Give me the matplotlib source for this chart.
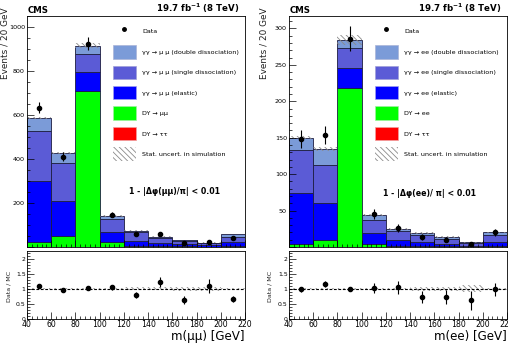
import numpy as np
import matplotlib
matplotlib.use("Agg")
import matplotlib.pyplot as plt
from matplotlib.patches import Patch
from matplotlib.lines import Line2D
from matplotlib.ticker import MultipleLocator, FuncFormatter

# ---------------- data ----------------
bin_edges = [40, 60, 80, 100, 120, 140, 160, 180, 200, 220]

# mu mu channel
mm_dytt   = [0, 0, 1, 0, 0, 0, 0, 0, 0]
mm_dy     = [22, 50, 708, 24, 5, 5, 3, 2, 4]
mm_el     = [278, 160, 86, 43, 23, 13, 9, 6, 18]
mm_sd     = [226, 170, 84, 59, 39, 21, 16, 9, 24]
mm_dd     = [60, 47, 36, 15, 7, 8, 4, 3, 13]
mm_data   = [633, 410, 924, 147, 59, 58, 20, 22, 39]
mm_relunc = [0.01, 0.012, 0.013, 0.02, 0.045, 0.05, 0.06, 0.07, 0.015]

# e e channel
ee_dytt   = [0, 0, 0.5, 0, 0, 0, 0, 0, 0]
ee_dy     = [4, 9, 217.5, 4.5, 2, 2, 1, 0.5, 1]
ee_el     = [70, 51, 27, 14.5, 7, 4.5, 3, 1.5, 6]
ee_sd     = [59, 53, 28, 18, 12.5, 9.5, 7, 3, 10]
ee_dd     = [17, 21, 11, 7, 3.3, 3.4, 2.8, 1.5, 3.3]
ee_data   = [148, 154, 286, 45, 26, 14, 10, 4, 20]
ee_relunc = [0.015, 0.02, 0.025, 0.03, 0.035, 0.06, 0.06, 0.11, 0.03]

labels_mm = ["Data",
             "γγ → μ μ (double dissociation)",
             "γγ → μ μ (single dissociation)",
             "γγ → μ μ (elastic)",
             "DY → μμ",
             "DY → ττ",
             "Stat. uncert. in simulation"]
labels_ee = ["Data",
             "γγ → ee (double dissociation)",
             "γγ → ee (single dissociation)",
             "γγ → ee (elastic)",
             "DY → ee",
             "DY → ττ",
             "Stat. uncert. in simulation"]

c_dd = "#7b9bd8"
c_sd = "#5b5bd6"
c_el = "#0000ff"
c_dy = "#00ff00"
c_tt = "#ff0000"
edge = "#1c1c40"
hatch_col = "#8a8a8a"

plt.rcParams["hatch.linewidth"] = 0.6
plt.rcParams["font.family"] = ["DejaVu Sans"]

fig = plt.figure(figsize=(5.10, 3.45), dpi=100)
W, H = 510.0, 345.0


def px_axes(x0, x1, ytop, ybot):
    return fig.add_axes([x0 / W, (H - ybot) / H, (x1 - x0) / W, (ybot - ytop) / H])


def style_ticks(ax):
    ax.tick_params(which="both", direction="in", top=False, right=False, width=0.5)
    ax.tick_params(which="major", length=5)
    ax.tick_params(which="minor", length=2.5)
    for s in ax.spines.values():
        s.set_linewidth(0.6)
    ax.set_axisbelow(False)


def panel(x0, comps, data, relunc, labels, ymax, ymajor, yminor, xlabel, sel_text, sel_x, sel_y,
          ylab_x, rlab_x):
    edges = np.array(bin_edges, dtype=float)
    lefts = edges[:-1]
    widths = np.diff(edges)
    centers = lefts + widths / 2
    data = np.array(data, dtype=float)
    relunc = np.array(relunc, dtype=float)

    ax = px_axes(x0, x0 + 218, 16, 247)
    bottom = np.zeros(len(lefts))
    for vals, col in comps:
        vals = np.array(vals, dtype=float)
        ax.bar(lefts, vals, width=widths, bottom=bottom, align="edge", color=col,
               edgecolor=edge, linewidth=0.6, zorder=1)
        bottom = bottom + vals
    total = bottom
    ax.bar(lefts, 2 * total * relunc, width=widths, bottom=total * (1 - relunc), align="edge",
           facecolor="none", edgecolor=hatch_col, hatch="\\\\\\\\\\\\", linewidth=0, zorder=2)
    derr = np.sqrt(data)
    ax.errorbar(centers, data, yerr=derr, fmt="o", color="black", ms=3.0, elinewidth=0.8,
                capsize=0, zorder=5)
    ax.set_xlim(40, 220)
    ax.set_ylim(0, ymax)
    ax.xaxis.set_major_locator(MultipleLocator(20))
    ax.xaxis.set_minor_locator(MultipleLocator(4))
    ax.yaxis.set_major_locator(MultipleLocator(ymajor))
    ax.yaxis.set_minor_locator(MultipleLocator(yminor))
    ax.yaxis.set_major_formatter(FuncFormatter(lambda v, p: "" if v == 0 else "%g" % v))
    ax.tick_params(labelbottom=False, labelsize=4.6, pad=1.5)
    style_ticks(ax)

    handles = [Line2D([], [], marker="o", color="black", ls="none", ms=2.5),
               Patch(facecolor=c_dd, edgecolor="#aab4d8", lw=0.5),
               Patch(facecolor=c_sd, edgecolor="#a0a0d8", lw=0.5),
               Patch(facecolor=c_el, edgecolor="#a0a0f0", lw=0.5),
               Patch(facecolor=c_dy, edgecolor="#a0f0a0", lw=0.5),
               Patch(facecolor=c_tt, edgecolor="#f0a0a0", lw=0.5),
               Patch(facecolor="white", edgecolor=hatch_col, hatch="\\\\\\\\\\\\", lw=0)]
    ax.legend(handles, labels, loc="upper left", bbox_to_anchor=(0.394, 0.962),
              borderaxespad=0, borderpad=0, frameon=False, fontsize=4.6,
              handlelength=3.6, handleheight=2.85, labelspacing=1.1, handletextpad=1.0)

    ax.text(sel_x, sel_y, sel_text, transform=ax.transAxes, fontsize=5.7, fontweight="bold",
            ha="left", va="center")
    ax.text(0.005, 1.005, "CMS", transform=ax.transAxes, fontsize=6.2, fontweight="bold",
            ha="left", va="bottom")
    ax.text(0.975, 1.005, "19.7 fb$^{\\mathbf{-1}}$ (8 TeV)", transform=ax.transAxes, fontsize=6.2,
            fontweight="bold", ha="right", va="bottom")
    fig.text(ylab_x / W, 1 - 7 / H, "Events / 20 GeV", rotation=90, fontsize=6.4,
             ha="center", va="top", color="#222222")

    # ratio panel
    rx = px_axes(x0, x0 + 218, 251, 319)
    rx.bar(lefts, 2 * relunc, width=widths, bottom=1 - relunc, align="edge",
           facecolor="none", edgecolor=hatch_col, hatch="\\\\\\\\\\\\", linewidth=0, zorder=1)
    rx.axhline(1.0, color="black", lw=0.8, ls=(0, (2.5, 1.5)), zorder=2)
    ratio = data / total
    rerr = derr / total
    rx.errorbar(centers, ratio, yerr=rerr, fmt="o", color="black", ms=3.0, elinewidth=0.8,
                capsize=0, zorder=5)
    rx.set_xlim(40, 220)
    rx.set_ylim(0, 2.25)
    rx.xaxis.set_major_locator(MultipleLocator(20))
    rx.xaxis.set_minor_locator(MultipleLocator(4))
    rx.yaxis.set_major_locator(MultipleLocator(0.5))
    rx.yaxis.set_minor_locator(MultipleLocator(0.1))
    rx.yaxis.set_major_formatter(FuncFormatter(lambda v, p: "%g" % v))
    rx.tick_params(axis="x", labelsize=5.6, pad=1.0)
    rx.tick_params(axis="y", labelsize=4.4, pad=1.0)
    style_ticks(rx)
    rx.set_xlabel(xlabel, fontsize=8.6, loc="right", labelpad=0.5)
    fig.text(rlab_x / W, 1 - 286 / H, "Data / MC", rotation=90, fontsize=4.6,
             ha="center", va="center", color="#222222")
    return ax, rx


comps_mm = [(mm_dytt, c_tt), (mm_dy, c_dy), (mm_el, c_el), (mm_sd, c_sd), (mm_dd, c_dd)]
comps_ee = [(ee_dytt, c_tt), (ee_dy, c_dy), (ee_el, c_el), (ee_sd, c_sd), (ee_dd, c_dd)]

panel(27, comps_mm, mm_data, mm_relunc, labels_mm, 1050, 200, 50, "m(μμ) [GeV]",
      "1 - |Δφ(μμ)/π| < 0.01", 0.47, 0.24, 5, 9)
panel(289, comps_ee, ee_data, ee_relunc, labels_ee, 317, 50, 10, "m(ee) [GeV]",
      "1 - |Δφ(ee)/ π| < 0.01", 0.432, 0.23, 264, 270)

fig.savefig("out.png", dpi=100)
